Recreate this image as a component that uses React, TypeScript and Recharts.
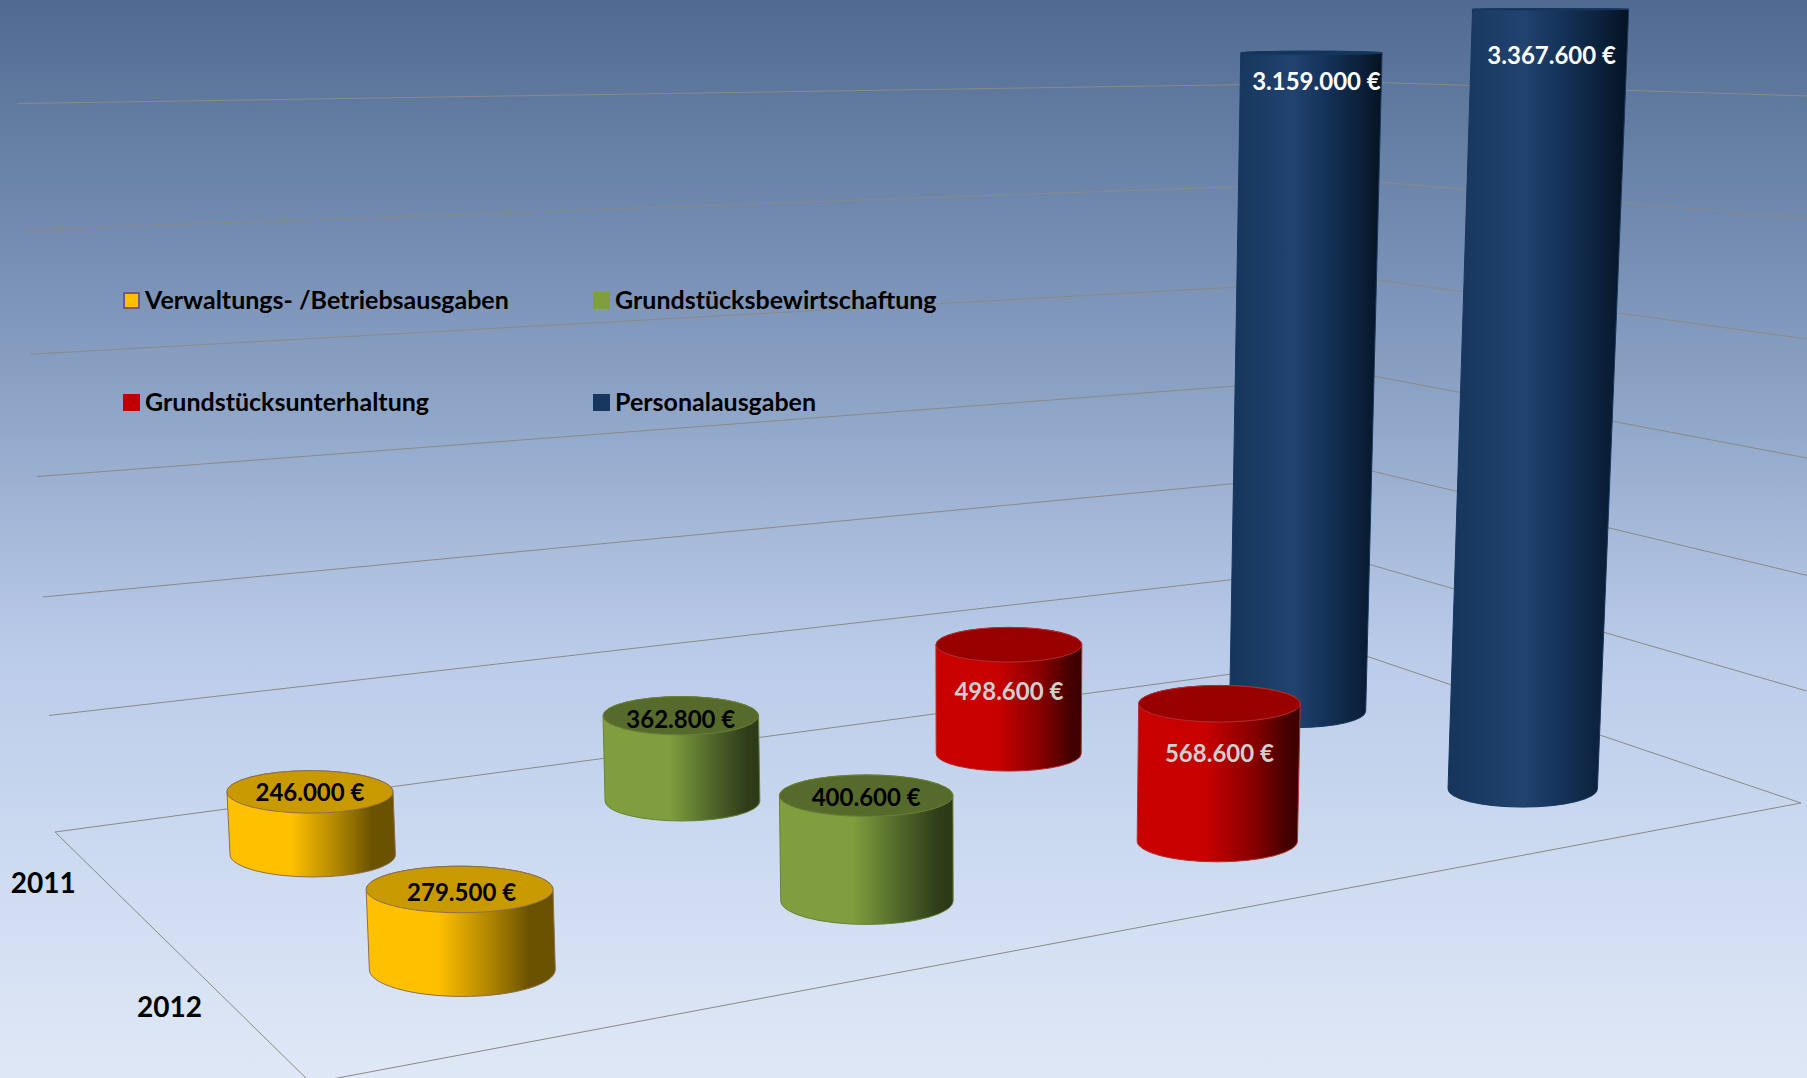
import React from "react";
import { ComposedChart, Bar, XAxis, YAxis, CartesianGrid, Legend, LabelList } from "recharts";

const YEARS = ["2011", "2012"];
const VERWALTUNG = [246000, 279500];
const BEWIRTSCHAFTUNG = [362800, 400600];
const UNTERHALTUNG = [498600, 568600];
const PERSONAL = [3159000, 3367600];
const VALUE_TICKS = [0, 500000, 1000000, 1500000, 2000000, 2500000, 3000000];
const LEGEND_ORDER = ["Verwaltungs- /Betriebsausgaben", "Grundstücksbewirtschaftung", "Grundstücksunterhaltung", "Personalausgaben"];

const rows = YEARS.map((year, i) => ({
  year,
  verwaltung: VERWALTUNG[i],
  bewirtschaftung: BEWIRTSCHAFTUNG[i],
  unterhaltung: UNTERHALTUNG[i],
  personal: PERSONAL[i],
}));

const W = 1807;
const H = 1078;
const MARGIN_V = 99;
const PLOT_BOTTOM = H - MARGIN_V;
const FONT = "Lato, 'Open Sans', sans-serif";

// Perspective of the floor: corners back-left, back-right, front-right, front-left
const Q = [[55, 832], [1366, 668], [1801, 803], [311, 1083]];
const homography = (() => {
  const [[x0, y0], [x1, y1], [x2, y2], [x3, y3]] = Q;
  const dx1 = x1 - x2, dx2 = x3 - x2, sx = x0 - x1 + x2 - x3;
  const dy1 = y1 - y2, dy2 = y3 - y2, sy = y0 - y1 + y2 - y3;
  const den = dx1 * dy2 - dx2 * dy1;
  const g = (sx * dy2 - dx2 * sy) / den;
  const h = (dx1 * sy - sx * dy1) / den;
  return { a: x1 - x0 + g * x1, b: x3 - x0 + h * x3, c: x0, d: y1 - y0 + g * y1, e: y3 - y0 + h * y3, f: y0, g, h };
})();
function floorPoint(u: number, v: number) {
  const m = homography;
  const den = 1 + m.g * u + m.h * v;
  return { x: (m.a * u + m.b * v + m.c) / den, y: (m.d * u + m.e * v + m.f) / den - 12 * u * (1 - v), den };
}
function raise(p: { x: number; y: number; den: number }, px: number) {
  let h = px / Math.pow(p.den, 0.93);
  h = h * (1 + h * (p.x - 625) * 7e-8);
  return { x: p.x + h * (p.x - 980) * 6.6e-5, y: p.y - h, h };
}
function raiseWall(p: { x: number; y: number; den: number }, px: number) {
  const h0 = px / Math.pow(p.den, 0.95);
  const h = h0 * (0.919 + (p.x - 55) * 5.1e-5 + h0 * (6.2e-5 + (p.x - 55) * 1.66e-8));
  return { x: p.x + h * (p.x - 980) * 5.6e-5, y: p.y - h };
}
// Bar position inside its category band -> place on the floor
function locate(x: number, width: number) {
  const xc = x + width / 2;
  const band = W / YEARS.length;
  const row = Math.min(YEARS.length - 1, Math.floor(xc / band));
  const frac = 1 - (xc - row * band) / band;
  const u = frac - 0.0355 + 0.088 * (frac - 0.62) ** 2;
  const v = (row + 0.5) / YEARS.length;
  const p = floorPoint(u, v);
  return { ...p, x: p.x + 18 * (v - 0.36) + (7 - 13 * u) * 1.15 * ((0.75 - v) / 0.5) };
}
function geometry(x: number, width: number, height: number) {
  const base = locate(x, width);
  const top = raise(base, height);
  const rb = (83 / Math.pow(base.den, 0.9)) * (1 + (base.x - 900) * 3e-5);
  const rt = rb * (1 + top.h * 5.8e-5);
  const ryb = rb * Math.max(0.24, 0.29 - (base.den - 0.87) * 0.17);
  const ryt = rt * 0.28 * Math.max(0.03, 1 - top.h / 720);
  return { base, top, rb, rt, ryb, ryt };
}

type Skin = { id: string; stops: [number, string][]; cap: string; edge: string };
const SKIN_YELLOW: Skin = { id: "g-y", cap: "#C89A00", edge: "#8C6E50", stops: [[0, "#FFC000"], [0.38, "#FFC000"], [0.68, "#A88000"], [0.86, "#6B5200"], [1, "#6B5200"]] };
const SKIN_GREEN: Skin = { id: "g-g", cap: "#566B2B", edge: "#6C8038", stops: [[0, "#7F9F3F"], [0.42, "#7F9F3F"], [0.72, "#4C6128"], [0.92, "#2E3C18"], [1, "#2C3A17"]] };
const SKIN_RED: Skin = { id: "g-r", cap: "#990000", edge: "#B03030", stops: [[0, "#C80000"], [0.42, "#C80000"], [0.72, "#860000"], [0.92, "#450000"], [1, "#3C0000"]] };
const SKIN_BLUE: Skin = { id: "g-b", cap: "#15345A", edge: "#17375E", stops: [[0, "#15355B"], [0.42, "#22436F"], [0.62, "#15335A"], [0.88, "#0A1E36"], [1, "#051322"]] };

function cylinder(skin: Skin) {
  return (props: any) => {
    const { x, width, height } = props;
    if (!height) return null;
    const { base, top, rb, rt, ryb, ryt } = geometry(x, width, height);
    const d = `M${top.x - rt},${top.y} L${base.x - rb},${base.y} A${rb},${ryb} 0 0 0 ${base.x + rb},${base.y} L${top.x + rt},${top.y} A${rt},${ryt} 0 0 0 ${top.x - rt},${top.y} Z`;
    return (
      <g>
        <defs>
          <linearGradient id={skin.id} x1="0" y1="0" x2="1" y2="0">
            {skin.stops.map(([o, c]) => <stop key={o} offset={o} stopColor={c} />)}
          </linearGradient>
        </defs>
        <path d={d} fill={`url(#${skin.id})`} stroke={skin.edge} strokeWidth={1} />
        <ellipse cx={top.x} cy={top.y} rx={rt} ry={ryt} fill={skin.cap} stroke={skin.edge} strokeWidth={1} />
      </g>
    );
  };
}

function valueLabel(color: string, drops: number[], shifts: number[] = [0, 0]) {
  return (props: any) => {
    const { x, width, height, value, index } = props;
    const { top } = geometry(x, width, height);
    return (
      <text x={top.x + shifts[index]} y={top.y + drops[index]} textAnchor="middle" dominantBaseline="central" fill={color}
        fontFamily={FONT} fontWeight={700} fontSize={24}>
        {`${Number(value).toLocaleString("de-DE")} €`}
      </text>
    );
  };
}

function wallLine(props: any) {
  const h = PLOT_BOTTOM - props.y1;
  const key = `wall-${props.y1}`;
  const corners = [floorPoint(0, 0), floorPoint(1, 0), floorPoint(1, 1)];
  const pts = corners.map((p) => raiseWall(p, h));
  const front = floorPoint(0, 1);
  const extra = h < 1 ? ` M${corners[0].x},${corners[0].y} L${front.x},${front.y} L${corners[2].x},${corners[2].y}` : "";
  const d = `M${pts[0].x},${pts[0].y} L${pts[1].x},${pts[1].y} L${pts[2].x},${pts[2].y}${extra}`;
  return <path key={key} d={d} fill="none" stroke="#8A8A84" strokeWidth={1} />;
}

function YearTick(props: any) {
  const { index, payload } = props;
  const p = floorPoint(0, (index + 0.5) / YEARS.length);
  return (
    <text x={p.x - 64} y={p.y - 1} textAnchor="middle" dominantBaseline="central" fill="#000"
      fontFamily={FONT} fontWeight={700} fontSize={28}>
      {payload.value}
    </text>
  );
}

function LegendBox(props: any) {
  const items = [...(props.payload ?? [])].sort((a: any, b: any) => LEGEND_ORDER.indexOf(a.value) - LEGEND_ORDER.indexOf(b.value));
  return (
    <div style={{ display: "grid", gridTemplateColumns: "470px 440px", gridAutoRows: "102px", fontFamily: FONT, fontWeight: 700, fontSize: 25, color: "#000" }}>
      {items.map((it: any) => (
        <div key={it.value} style={{ display: "flex", alignItems: "flex-start", height: 34, lineHeight: "34px" }}>
          <span style={{ width: 13, height: 13, margin: "10px 5px 0 0", background: it.color, border: `2px solid ${it.color === "#FFC000" ? "#6E5A8C" : it.color}`, flex: "none", boxSizing: "content-box" }} />
          <span style={{ whiteSpace: "nowrap" }}>{it.value}</span>
        </div>
      ))}
    </div>
  );
}

export default function App() {
  return (
    <div style={{
      position: "absolute", left: 0, top: 0, width: W, height: H, overflow: "hidden",
      background: "linear-gradient(180deg, #506A91 0%, #8BA2C5 36%, #BACBE9 60%, #CBD9F0 78%, #DFE8F6 100%)",
    }}>
      <ComposedChart width={W} height={H} data={rows} barCategoryGap={0} barGap={0}
        margin={{ top: MARGIN_V, right: 0, bottom: MARGIN_V - 1, left: 0 }}>
        <CartesianGrid vertical={false} horizontal={wallLine as any} horizontalValues={VALUE_TICKS} />
        <XAxis dataKey="year" height={1} axisLine={false} tickLine={false} tick={<YearTick />} interval={0} />
        <YAxis width={0} hide domain={[0, 3500000]} ticks={VALUE_TICKS} />
        <Legend layout="horizontal" verticalAlign="middle" content={<LegendBox />}
          wrapperStyle={{ left: 123, top: 282, width: 920 }} />
        <Bar dataKey="personal" name="Personalausgaben" fill="#17375E" isAnimationActive={false} shape={cylinder(SKIN_BLUE) as any}>
          <LabelList dataKey="personal" content={valueLabel("#FFFFFF", [28, 45], [5, 1]) as any} />
        </Bar>
        <Bar dataKey="unterhaltung" name="Grundstücksunterhaltung" fill="#C00000" isAnimationActive={false} shape={cylinder(SKIN_RED) as any}>
          <LabelList dataKey="unterhaltung" content={valueLabel("#D0D0D0", [46, 49]) as any} />
        </Bar>
        <Bar dataKey="bewirtschaftung" name="Grundstücksbewirtschaftung" fill="#7F9F3F" isAnimationActive={false} shape={cylinder(SKIN_GREEN) as any}>
          <LabelList dataKey="bewirtschaftung" content={valueLabel("#000000", [3, 1]) as any} />
        </Bar>
        <Bar dataKey="verwaltung" name="Verwaltungs- /Betriebsausgaben" fill="#FFC000" isAnimationActive={false} shape={cylinder(SKIN_YELLOW) as any}>
          <LabelList dataKey="verwaltung" content={valueLabel("#000000", [0, 2], [0, 2]) as any} />
        </Bar>
      </ComposedChart>
    </div>
  );
}
